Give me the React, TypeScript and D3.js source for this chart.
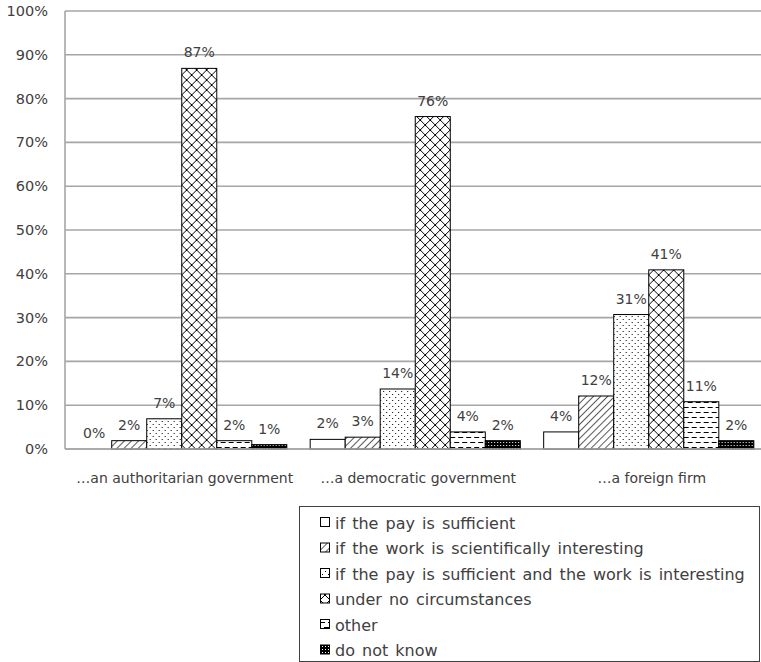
import React from "react";
import * as d3 from "d3";

const categories = ["…an authoritarian government", "…a democratic government", "…a foreign firm"];
const seriesNames = [
  "if the pay is sufficient",
  "if the work is scientifically interesting",
  "if the pay is sufficient and the work is interesting",
  "under no circumstances",
  "other",
  "do not know",
];
// values per category, in series order (percent)
const authoritarian = [0, 1.9, 6.9, 86.9, 1.9, 1.0];
const democratic = [2.2, 2.7, 13.7, 75.9, 3.9, 1.9];
const foreignFirm = [3.9, 12.1, 30.7, 40.9, 10.8, 1.9];
const valueLabels = [
  ["0%", "2%", "7%", "87%", "2%", "1%"],
  ["2%", "3%", "14%", "76%", "4%", "2%"],
  ["4%", "12%", "31%", "41%", "11%", "2%"],
];
const yTicks = [0, 10, 20, 30, 40, 50, 60, 70, 80, 90, 100];

const data = [authoritarian, democratic, foreignFirm];
const patternIds = ["pNone", "pDiag", "pDots", "pCross", "pDash", "pDark"];

const FONT = "'DejaVu Sans', Verdana, sans-serif";
const TEXT = "#404040";

export default function App() {
  const W = 761, H = 662;
  const left = 65, top = 11, bottom = 449;
  const x0 = d3.scaleBand<string>().domain(categories).range([left, left + 700.5]).paddingInner(0.1).paddingOuter(0.05);
  const x1 = d3.scaleBand<string>().domain(seriesNames).range([0, x0.bandwidth()]);
  const y = d3.scaleLinear().domain([0, 100]).range([bottom, top]);

  return (
    <svg width={W} height={H} style={{ position: "absolute", left: 0, top: 0, background: "#fff" }} fontFamily={FONT}>
      <defs>
        <pattern id="pNone" width="4" height="4" patternUnits="userSpaceOnUse">
          <rect width="4" height="4" fill="#fff" />
        </pattern>
        <pattern id="pDiag" width="5" height="5" patternUnits="userSpaceOnUse" patternTransform="rotate(45)">
          <rect width="5" height="5" fill="#fff" />
          <line x1="0" y1="0" x2="0" y2="5" stroke="#000" strokeWidth="1.3" />
        </pattern>
        <pattern id="pDots" width="6" height="6" patternUnits="userSpaceOnUse">
          <rect width="6" height="6" fill="#fff" />
          <rect x="1" y="1" width="1" height="1" fill="#000" />
          <rect x="4" y="4" width="1" height="1" fill="#000" />
        </pattern>
        <pattern id="pCross" width="10" height="10" patternUnits="userSpaceOnUse">
          <rect width="10" height="10" fill="#fff" />
          <path d="M0,0 L10,10 M10,0 L0,10" stroke="#000" strokeWidth="1" />
        </pattern>
        <pattern id="pDash" width="8" height="10" patternUnits="userSpaceOnUse">
          <rect width="8" height="10" fill="#fff" />
          <line x1="0" y1="2.5" x2="5" y2="2.5" stroke="#000" strokeWidth="1" />
          <line x1="4" y1="7.5" x2="8" y2="7.5" stroke="#000" strokeWidth="1" />
          <line x1="0" y1="7.5" x2="1" y2="7.5" stroke="#000" strokeWidth="1" />
        </pattern>
        <pattern id="pDark" width="3" height="3" patternUnits="userSpaceOnUse">
          <rect width="3" height="3" fill="#000" />
          <rect x="1" y="1" width="1" height="1" fill="#fff" />
        </pattern>
      </defs>

      {/* gridlines */}
      {yTicks.map((t) => (
        <line key={t} x1={left} x2={W} y1={y(t)} y2={y(t)} stroke="#a6a6a6" strokeWidth={1.6} />
      ))}
      <line x1={left} x2={left} y1={top} y2={bottom} stroke="#a6a6a6" strokeWidth={1.6} />

      {/* y tick labels */}
      {yTicks.map((t) => (
        <text key={t} x={48} y={y(t)} dy="0.35em" textAnchor="end" fontSize={14.5} fill={TEXT}>
          {t}%
        </text>
      ))}

      {/* bars */}
      {categories.map((c, ci) => (
        <g key={c} transform={`translate(${x0(c)},0)`}>
          {seriesNames.map((s, si) => {
            const v = data[ci][si];
            const bx = x1(s)!;
            return (
              <g key={s}>
                {v > 0 && (
                  <rect x={bx} y={y(v)} width={x1.bandwidth()} height={bottom - y(v)} fill={`url(#${patternIds[si]})`} stroke="#000" strokeWidth={1} />
                )}
                <text x={bx + x1.bandwidth() / 2} y={y(v) - 11} textAnchor="middle" fontSize={14} fill={TEXT}>
                  {valueLabels[ci][si]}
                </text>
              </g>
            );
          })}
        </g>
      ))}
      {/* bottom axis over bars */}
      <line x1={left} x2={W} y1={bottom} y2={bottom} stroke="#a6a6a6" strokeWidth={1.6} />

      {/* category labels */}
      {categories.map((c) => (
        <text key={c} x={x0(c)! + x0.bandwidth() / 2 + 3} y={478} dy="0.35em" textAnchor="middle" fontSize={14} fill={TEXT}>
          {c}
        </text>
      ))}

      {/* legend */}
      <rect x={299.5} y={506.5} width={460} height={155} fill="#fff" stroke="#404040" strokeWidth={1} />
      {seriesNames.map((s, si) => {
        const ly = 523 + si * 25.5;
        return (
          <g key={s}>
            <rect x={320.5} y={ly - 5.5} width={9} height={9} fill={`url(#${patternIds[si]})`} stroke="#000" strokeWidth={1} />
            <text x={335} y={ly} dy="0.35em" fontSize={16} wordSpacing={2} fill={TEXT}>
              {s}
            </text>
          </g>
        );
      })}
    </svg>
  );
}
